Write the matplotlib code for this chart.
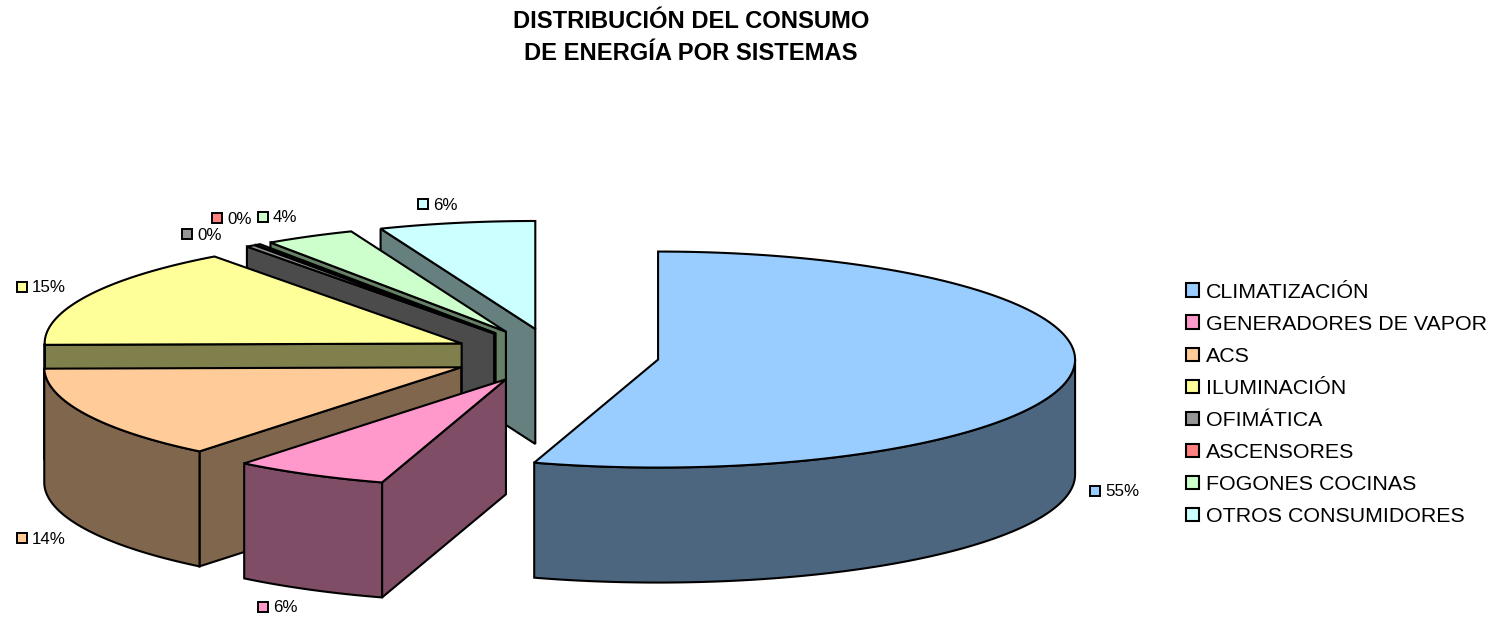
import numpy as np
import matplotlib
matplotlib.use("Agg")
import matplotlib.pyplot as plt
from matplotlib.patches import Polygon, Patch

plt.rcParams['font.family'] = ['Liberation Sans', 'DejaVu Sans']

categories = ["CLIMATIZACIÓN", "GENERADORES DE VAPOR", "ACS", "ILUMINACIÓN",
              "OFIMÁTICA", "ASCENSORES", "FOGONES COCINAS", "OTROS CONSUMIDORES"]
shares = [54.8, 6.0, 14.0, 15.1, 0.35, 0.2, 3.5, 6.05]
colors = ["#99CCFF", "#FF99CC", "#FFCC99", "#FFFF99",
          "#969696", "#FF8080", "#CCFFCC", "#CCFFFF"]
title_lines = ["DISTRIBUCIÓN DEL CONSUMO", "DE ENERGÍA POR SISTEMAS"]

# centres of the small square + text for each data label, in pixels
label_pos = [(1095, 491), (263, 607), (22, 538), (22, 287),
             (187, 234), (217, 218), (263, 217), (423, 204)]

# pie geometry in pixels
cx, cy = 555, 355.5
rx, ry = 417, 108
depth = 115
explode = 0.25
lw = 1.5


def point(x0, y0, a):
    return x0 + rx*np.sin(a), y0 - ry*np.cos(a)


def arc(x0, y0, a0, a1):
    s = np.linspace(a0, a1, 200)
    return np.column_stack(point(x0, y0, s))


def darker(col):
    rgb = np.array(matplotlib.colors.to_rgb(col))
    return tuple(rgb*0.5)


def drawSlice(ax, a0, a1, col):
    mid = (a0 + a1)/2
    x0 = cx + explode*rx*np.sin(mid)
    y0 = cy - explode*ry*np.cos(mid)
    side = darker(col)
    down = np.array([0, depth])
    tip = np.array([x0, y0])
    # radial walls, only when they face the viewer
    walls = []
    if a0 > np.pi:
        walls.append(a0)
    if a1 < np.pi:
        walls.append(a1)
    for a in walls:
        p = np.array(point(x0, y0, a))
        ax.add_patch(Polygon([tip, p, p + down, tip + down], fc=side, ec="k", lw=lw))
    # outer wall, only the part that faces the viewer
    b0, b1 = max(a0, np.pi/2), min(a1, 3*np.pi/2)
    if b1 > b0:
        top = arc(x0, y0, b0, b1)
        ax.add_patch(Polygon(np.vstack([top, (top + down)[::-1]]), fc=side, ec="k", lw=lw))
    ax.add_patch(Polygon(np.vstack([tip, arc(x0, y0, a0, a1)]), fc=col, ec="k", lw=lw))


fig = plt.figure(figsize=(14.95, 6.18), dpi=100)
ax = fig.add_axes([0, 0, 1, 1])
ax.set_xlim(0, 1495)
ax.set_ylim(618, 0)
ax.axis("off")

edges = np.cumsum([0] + shares)/sum(shares)*2*np.pi
# back slices first, the first slices sit in front
for i in range(len(shares) - 1, -1, -1):
    drawSlice(ax, edges[i], edges[i + 1], colors[i])

for v, col, (x, y) in zip(shares, colors, label_pos):
    ax.plot([x], [y], marker="s", ms=7, mfc=col, mec="k", mew=1.4, ls="none")
    ax.text(x + 10, y + 1, f"{round(v)}%", fontsize=12.2, va="center", ha="left", color="k")

ax.text(691, 21.5, title_lines[0], fontsize=17.1, fontweight="bold", ha="center", va="center")
ax.text(691, 53.5, title_lines[1], fontsize=17.1, fontweight="bold", ha="center", va="center")

handles = [Patch(fc=c, ec="k", lw=1.5) for c in colors]
ax.legend(handles, categories, loc="center left", bbox_to_anchor=(1186, 404.5),
          bbox_transform=ax.transData, frameon=False, fontsize=15.4,
          handlelength=0.6, handleheight=0.6, handletextpad=0.33,
          labelspacing=0.611, borderpad=0, borderaxespad=0)

fig.savefig("out.png", dpi=100)
